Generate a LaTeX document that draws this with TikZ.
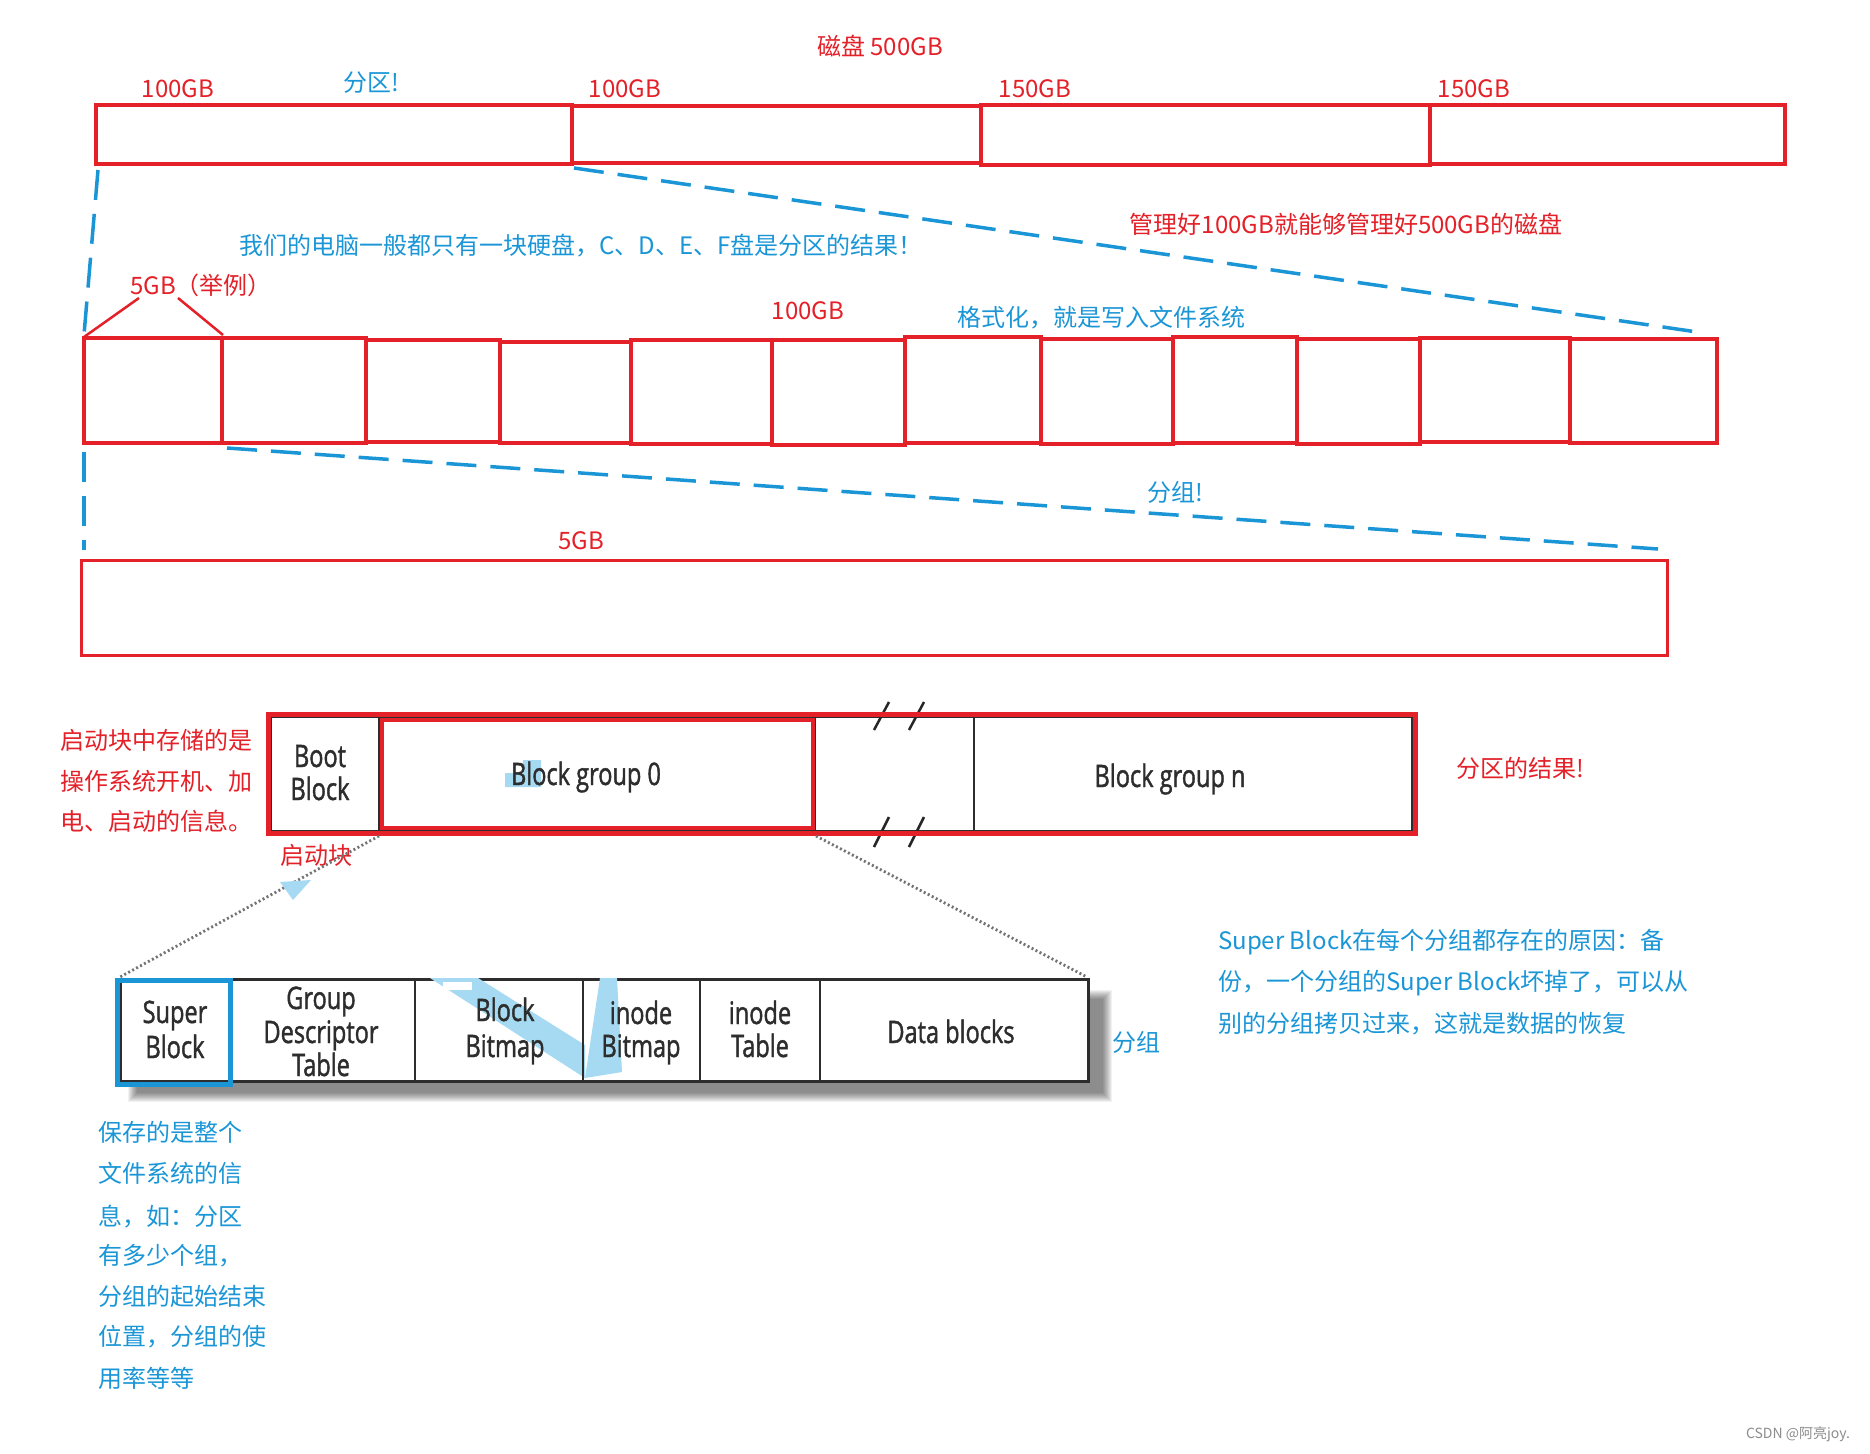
\documentclass[tikz,border=0pt]{standalone}
\usepackage{fontspec}
\setmainfont{Noto Sans CJK SC}
\newfontfamily\bookfont[FakeStretch=0.76,FakeBold=1.3]{Open Sans}
\usetikzlibrary{fit}
\definecolor{myred}{RGB}{228,32,40}
\definecolor{myblue}{RGB}{26,150,215}
\definecolor{hiblue}{RGB}{165,218,242}
\definecolor{ink}{RGB}{45,45,45}
\tikzset{
 lbl/.style={inner sep=0pt, font=\fontsize{24}{28}\selectfont},
 rlbl/.style={lbl, text=myred},
 blbl/.style={lbl, text=myblue},
 rbox/.style={draw=myred, line width=3.5pt, inner sep=0pt},
 rboxw/.style={draw=myred, line width=4.5pt, inner sep=0pt},
 bdash/.style={draw=myblue, line width=3.5pt, dash pattern=on 30pt off 14pt},
 rthin/.style={draw=myred, line width=2.5pt},
 bkline/.style={draw=ink, line width=2.5pt},
 divline/.style={draw=ink, line width=2pt},
 slashline/.style={draw=black!85, line width=2.5pt},
 dotline/.style={draw=black!55, line width=2.8pt, dash pattern=on 2pt off 2.5pt},
 bktext/.style={inner sep=0pt, anchor=base, text=ink, font=\bookfont\fontsize{31}{34}\selectfont},
 hilite/.style={fill=hiblue},
}
\begin{document}
\begin{tikzpicture}[x=1pt,y=-1pt]
\useasboundingbox (0,0) rectangle (1870,1453);
\fill[white] (0,0) rectangle (1870,1453);

% ---------- disk level ----------
\node[rlbl] (title) at (880,46) {磁盘 500GB};
\node[rlbl] (l100a) at (178,89) {100GB};
\node[blbl] (lfq) at (371,83) {分区!};
\node[rlbl] (l100b) at (625,89) {100GB};
\node[rlbl] (l150a) at (1035,89) {150GB};
\node[rlbl] (l150b) at (1474,89) {150GB};

\node[rbox, fit={(96,105)(572,164)}] (p1) {};
\node[rbox, fit={(572,106)(981,163)}] (p2) {};
\node[rbox, fit={(981,105)(1430,165)}] (p3) {};
\node[rbox, fit={(1430,105)(1785,164)}] (p4) {};

\node[blbl] (t1) at (581,246) {我们的电脑一般都只有一块硬盘，C、D、E、F盘是分区的结果！};
\node[rlbl] (t2) at (1346,224) {管理好100GB就能够管理好500GB的磁盘};
\node[rlbl] (t3) at (201,285) {5GB（举例）};
\node[rlbl] (t4) at (808,311) {100GB};
\node[blbl] (t5) at (1101,318) {格式化，就是写入文件系统};

% ---------- partition level ----------
\node[rbox, fit={(84,338)(222,443)}] (q1) {};
\node[rbox, fit={(222,338)(366,443)}] (q2) {};
\node[rboxw, fit={(366,340)(500,442)}] (q3) {};
\node[rboxw, fit={(500,342)(631,443)}] (q4) {};
\node[rboxw, fit={(631,340)(772,444)}] (q5) {};
\node[rboxw, fit={(772,340)(905,445)}] (q6) {};
\node[rboxw, fit={(905,337)(1041,443)}] (q7) {};
\node[rbox, fit={(1041,339)(1173,444)}] (q8) {};
\node[rboxw, fit={(1173,337)(1297,443)}] (q9) {};
\node[rboxw, fit={(1297,339)(1420,444)}] (q10) {};
\node[rbox, fit={(1420,338)(1570,442)}] (q11) {};
\node[rbox, fit={(1570,339)(1717,443)}] (q12) {};

\coordinate (d1s) at (98,170);
\coordinate (d1e) at (84,335);
\coordinate (d2s) at (574,168);
\coordinate (d2e) at (1704,333);
\draw[bdash] (d1s) -- (d1e);
\draw[bdash] (d2s) -- (d2e);

\coordinate (r1e) at (84,337);
\coordinate (r2e) at (223,335);
\coordinate (r1s) at (139,298);
\coordinate (r2s) at (178,298);
\draw[rthin] (r1s) -- (r1e);
\draw[rthin] (r2s) -- (r2e);

% ---------- group level ----------
\node[blbl] (t6) at (1175,492) {分组!};
\node[rlbl] (t7) at (581,541) {5GB};
\node[draw=myred, line width=3pt, inner sep=0pt, fit={(81,560)(1667,655)}] (grp) {};

\coordinate (d3s) at (84,452);
\coordinate (d3e) at (84,550);
\coordinate (d4s) at (227,448);
\coordinate (d4e) at (1658,549);
\draw[bdash] (d3s) -- (d3e);
\draw[bdash] (d4s) -- (d4e);

% ---------- block groups ----------
\node[bkline, inner sep=0pt, fit={(271,717)(1412,831)}] (bgrid) {};
\draw[divline] (379,717) -- (379,831);
\draw[divline] (815,717) -- (815,831);
\draw[divline] (974,717) -- (974,831);
\fill[hilite] (505,773) -- (523,773) -- (523,760) -- (541,760) -- (541,787) -- (505,787) -- cycle;
\draw[slashline] (874,730) -- (889,702);
\draw[slashline] (909,730) -- (924,702);
\draw[slashline] (874,847) -- (889,817);
\draw[slashline] (909,847) -- (924,817);

\node[draw=myred, line width=5pt, inner sep=0pt, fit={(268,714)(1415,833)}] (R1) {};
\node[draw=myred, line width=4.5pt, inner sep=0pt, fit={(382,720)(813,828)}] (R2) {};

\node[bktext] (bb1) at (320,767) {Boot};
\node[bktext] (bb2) at (320,800) {Block};
\node[bktext] (bg0) at (586,785) {Block group 0};
\node[bktext] (bgn) at (1170,787) {Block group n};

\node[rlbl, anchor=west] (n1) at (60,740) {启动块中存储的是};
\node[rlbl, anchor=west] (n2) at (60,781) {操作系统开机、加};
\node[rlbl, anchor=west] (n3) at (60,821) {电、启动的信息。};
\node[rlbl] (qd) at (316,855) {启动块};
\node[rlbl] (res) at (1520,768) {分区的结果!};

% ---------- group detail ----------
\foreach \k in {0,...,9}
  \fill[black, opacity=0.055] (128+\k,990+\k) rectangle (1112-\k,1102-\k);
\node[draw=ink, line width=3pt, fill=white, inner sep=0pt, fit={(120,979)(1088,1081)}] (tbl) {};
\fill[hilite] (430,978) -- (478,978) -- (585,1045) -- (585,1078) -- cycle;
\fill[hilite] (600,978) -- (617,978) -- (622,1072) -- (585,1078) -- cycle;
\fill[white] (443,982) rectangle (472,990);
\draw[divline] (231,979) -- (231,1081);
\draw[divline] (415,979) -- (415,1081);
\draw[divline] (583,979) -- (583,1081);
\draw[divline] (700,979) -- (700,1081);
\draw[divline] (820,979) -- (820,1081);
\node[draw=myblue, line width=5pt, inner sep=0pt, fit={(117,980)(230,1084)}] (sbox) {};

\coordinate (o1s) at (379,836);
\coordinate (o1e) at (120,977);
\coordinate (o2s) at (816,836);
\coordinate (o2e) at (1087,977);
\draw[dotline] (o1s) -- (o1e);
\draw[dotline] (o2s) -- (o2e);
\fill[hilite] (280,882) -- (311,880) -- (293,900) -- cycle;

\node[bktext] (s1) at (175,1023) {Super};
\node[bktext] (s2) at (175,1058) {Block};
\node[bktext] (g1) at (321,1009) {Group};
\node[bktext] (g2) at (321,1043) {Descriptor};
\node[bktext] (g3) at (321,1076) {Table};
\node[bktext] (bm1) at (505,1021) {Block};
\node[bktext] (bm2) at (505,1057) {Bitmap};
\node[bktext] (ib1) at (641,1024) {inode};
\node[bktext] (ib2) at (641,1057) {Bitmap};
\node[bktext] (it1) at (760,1024) {inode};
\node[bktext] (it2) at (760,1057) {Table};
\node[bktext] (db) at (951,1043) {Data blocks};

\node[blbl] (fz) at (1136,1042) {分组};

\node[blbl, anchor=west] (w1) at (1218,942) {Super Block在每个分组都存在的原因：备};
\node[blbl, anchor=west] (w2) at (1218,983) {份，一个分组的Super Block坏掉了，可以从};
\node[blbl, anchor=west] (w3) at (1218,1024) {别的分组拷贝过来，这就是数据的恢复};

\node[blbl, anchor=west] (v1) at (98,1132) {保存的是整个};
\node[blbl, anchor=west] (v2) at (98,1173) {文件系统的信};
\node[blbl, anchor=west] (v3) at (98,1217) {息，如：分区};
\node[blbl, anchor=west] (v4) at (98,1256) {有多少个组，};
\node[blbl, anchor=west] (v5) at (98,1296) {分组的起始结束};
\node[blbl, anchor=west] (v6) at (98,1337) {位置，分组的使};
\node[blbl, anchor=west] (v7) at (98,1378) {用率等等};

\node[inner sep=0pt, text=black!45, font=\fontsize{14}{16}\selectfont] (wm) at (1798,1434) {CSDN @阿亮joy.};
\end{tikzpicture}
\end{document}
